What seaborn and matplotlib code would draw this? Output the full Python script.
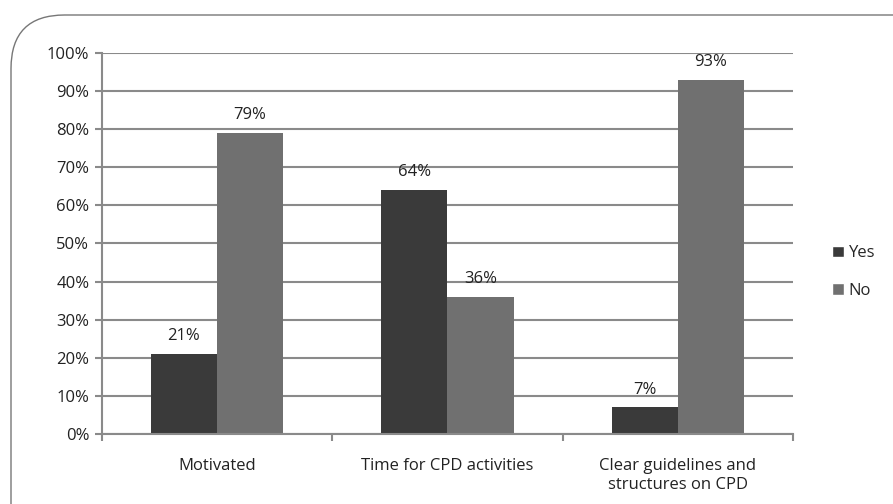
import pandas as pd
import matplotlib.pyplot as plt
import seaborn as sns
from matplotlib.patches import FancyBboxPatch, Patch
from matplotlib.ticker import PercentFormatter, FixedLocator

# Data
categories = ['Motivated', 'Time for CPD activities', 'Clear guidelines and\nstructures on CPD']
yes_values = [21, 64, 7]
no_values = [79, 36, 93]

colors = {'Yes': '#3a3a3a', 'No': '#707070'}

df = pd.DataFrame({
    'Category': categories * 2,
    'Answer': ['Yes'] * 3 + ['No'] * 3,
    'Value': yes_values + no_values,
})

sns.set_style('white')
plt.rcParams['font.family'] = ['Open Sans', 'DejaVu Sans']
fs = 12

fig = plt.figure(figsize=(8.93, 5.04), dpi=100)
ax = fig.add_axes([0.114, 0.139, 0.774, 0.756])

# rounded frame around the chart
frame = FancyBboxPatch((11 / 893, -0.2), 1.2, 1 - 15 / 504 + 0.2,
                       boxstyle='round,pad=0,rounding_size=0.06',
                       transform=fig.transFigure, facecolor='none',
                       edgecolor='#777777', linewidth=1.0, mutation_aspect=893 / 504)
fig.patches.append(frame)

sns.barplot(data=df, x='Category', y='Value', hue='Answer', palette=colors,
            width=0.574, gap=0, ax=ax, legend=False, saturation=1, edgecolor='none')

for container in ax.containers:
    ax.bar_label(container, labels=[f'{int(v)}%' for v in container.datavalues],
                 padding=7, fontsize=fs, color='#222222')

ax.set_ylim(0, 100)
ax.set_xlim(-0.5, 2.5)
ax.yaxis.set_major_locator(FixedLocator(range(0, 101, 10)))
ax.yaxis.set_major_formatter(PercentFormatter(decimals=0))
ax.grid(axis='y', color='#8a8a8a', linewidth=1.5)
ax.set_axisbelow(True)
ax.set_xlabel('')
ax.set_ylabel('')

for s in ['top', 'right']:
    ax.spines[s].set_visible(False)
ax.spines['left'].set_color('#8a8a8a')
ax.spines['left'].set_linewidth(1.5)
ax.spines['bottom'].set_color('#8a8a8a')
ax.spines['bottom'].set_linewidth(1.5)

ax.tick_params(axis='y', left=True, length=5, width=1.5, color='#8a8a8a',
               labelsize=fs, labelcolor='#222222', pad=4)
ax.set_xticks(range(3))
ax.set_xticklabels(categories, fontsize=fs, color='#222222')
ax.tick_params(axis='x', bottom=False, pad=14)
ax.set_xticks([-0.5, 0.5, 1.5, 2.5], minor=True)
ax.tick_params(axis='x', which='minor', bottom=True, length=5, width=1.5, color='#8a8a8a')

handles = [Patch(facecolor=colors[k], label=k) for k in ['Yes', 'No']]
fig.legend(handles=handles, loc='center left', bbox_to_anchor=(0.915, 0.46),
           frameon=False, fontsize=fs, handlelength=0.7, handleheight=0.7,
           handletextpad=0.3, labelspacing=1.3)

fig.savefig('out.png', dpi=100, facecolor='white')
